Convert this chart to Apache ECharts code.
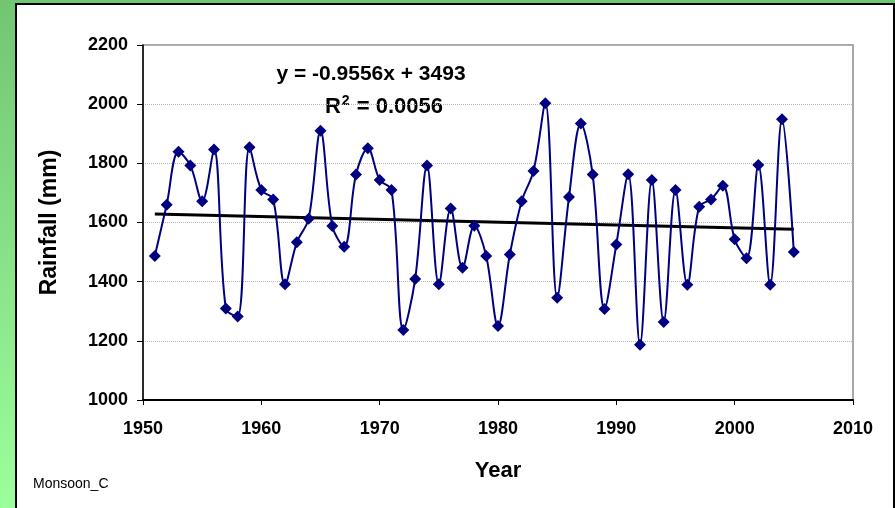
<!DOCTYPE html>
<html>
<head>
<meta charset="utf-8">
<script src="https://cdn.jsdelivr.net/npm/echarts@6/dist/echarts.min.js"></script>
<style>
    html, body {
        margin: 0;
        padding: 0;
        width: 895px;
        height: 508px;
        overflow: hidden;
        background: linear-gradient(to bottom, #72c672, #9bff9b);
    }
    .frame {
        position: absolute;
        left: 15px;
        top: 3px;
        width: 876px;
        height: 510px;
        background: #fff;
        border: 2px solid #000;
    }
    #chart {
        position: absolute;
        left: 0;
        top: 0;
        width: 895px;
        height: 508px;
    }
</style>
</head>
<body>
<div class="frame"></div>
<div id="chart"></div>
<script>
// annual monsoon rainfall (mm)
const years = [
    1951, 1952, 1953, 1954, 1955, 1956, 1957, 1958, 1959, 1960,
    1961, 1962, 1963, 1964, 1965, 1966, 1967, 1968, 1969, 1970,
    1971, 1972, 1973, 1974, 1975, 1976, 1977, 1978, 1979, 1980,
    1981, 1982, 1983, 1984, 1985, 1986, 1987, 1988, 1989, 1990,
    1991, 1992, 1993, 1994, 1995, 1996, 1997, 1998, 1999, 2000,
    2001, 2002, 2003, 2004, 2005
];
const rainfall = [
    1487, 1660, 1839, 1793, 1672, 1847, 1309, 1282, 1854, 1710,
    1678, 1391, 1533, 1613, 1910, 1588, 1518, 1762, 1851, 1744,
    1710, 1237, 1409, 1793, 1391, 1647, 1447, 1589, 1487, 1250,
    1492, 1672, 1774, 2003, 1346, 1686, 1935, 1762, 1308, 1526,
    1763, 1187, 1744, 1264, 1710, 1390, 1653, 1678, 1724, 1543,
    1479, 1794, 1390, 1949, 1500
];
// linear trend end points
const trendYears = [1951, 2005];
const trendValues = [1628.6, 1577.0];

const yTicks = [1000, 2200, 200];
const xTicks = [1950, 2010, 10];

const boldFont = { fontFamily: 'Liberation Sans, Arial', fontWeight: 'bold', color: '#000' };

let myChart = echarts.init(document.getElementById('chart'));

let option = {
    backgroundColor: 'transparent',
    animation: false,
    grid: {
        left: 143,
        right: 42,
        top: 45,
        bottom: 108,
        show: true,
        borderColor: '#8c8c8c',
        borderWidth: 1.5
    },
    xAxis: {
        type: 'value',
        min: xTicks[0],
        max: xTicks[1],
        interval: xTicks[2],
        name: 'Year',
        nameLocation: 'middle',
        nameGap: 60,
        nameTextStyle: Object.assign({ fontSize: 22 }, boldFont),
        axisLine: { lineStyle: { color: '#000', width: 2 } },
        axisTick: { show: true, length: 5, lineStyle: { color: '#000', width: 1 } },
        axisLabel: Object.assign({
            fontSize: 18,
            margin: 20,
            formatter: v => String(v)
        }, boldFont),
        splitLine: { show: false }
    },
    yAxis: {
        type: 'value',
        min: yTicks[0],
        max: yTicks[1],
        interval: yTicks[2],
        name: 'Rainfall (mm)',
        nameLocation: 'middle',
        nameGap: 82,
        nameTextStyle: Object.assign({ fontSize: 23 }, boldFont),
        axisLine: { show: true, lineStyle: { color: '#000', width: 1.5 } },
        axisTick: { show: true, length: 6, lineStyle: { color: '#000', width: 1 } },
        axisLabel: Object.assign({
            fontSize: 18,
            margin: 15,
            formatter: v => String(v)
        }, boldFont),
        splitLine: {
            show: true,
            lineStyle: { color: '#b8b8b8', type: 'dotted', width: 1 }
        }
    },
    series: [
        {
            name: 'Rainfall',
            type: 'line',
            smooth: 0.35,
            data: years.map((y, i) => [y, rainfall[i]]),
            symbol: 'diamond',
            symbolSize: 12,
            itemStyle: { color: '#000080' },
            lineStyle: { color: '#000080', width: 2 },
            z: 3
        },
        {
            name: 'Trend',
            type: 'line',
            data: trendYears.map((y, i) => [y, trendValues[i]]),
            symbol: 'none',
            lineStyle: { color: '#000', width: 3 },
            z: 2
        }
    ],
    graphic: [
        {
            type: 'text',
            x: 371,
            y: 74,
            style: {
                text: 'y = -0.9556x + 3493',
                font: 'bold 21px Liberation Sans, Arial',
                fill: '#000',
                align: 'center',
                verticalAlign: 'middle'
            }
        },
        {
            type: 'text',
            x: 384,
            y: 106,
            style: {
                text: '{b|R}{s|2}{b| = 0.0056}',
                align: 'center',
                verticalAlign: 'middle',
                rich: {
                    b: { font: 'bold 22px Liberation Sans, Arial', fill: '#000', verticalAlign: 'bottom' },
                    s: { font: 'bold 14px Liberation Sans, Arial', fill: '#000', verticalAlign: 'top', padding: [0, 1, 10, 1] }
                }
            }
        },
        {
            type: 'text',
            left: 33,
            top: 477,
            style: {
                text: 'Monsoon_C',
                font: '14px Liberation Sans, Arial',
                fill: '#000'
            }
        }
    ]
};

myChart.setOption(option);
</script>
</body>
</html>
